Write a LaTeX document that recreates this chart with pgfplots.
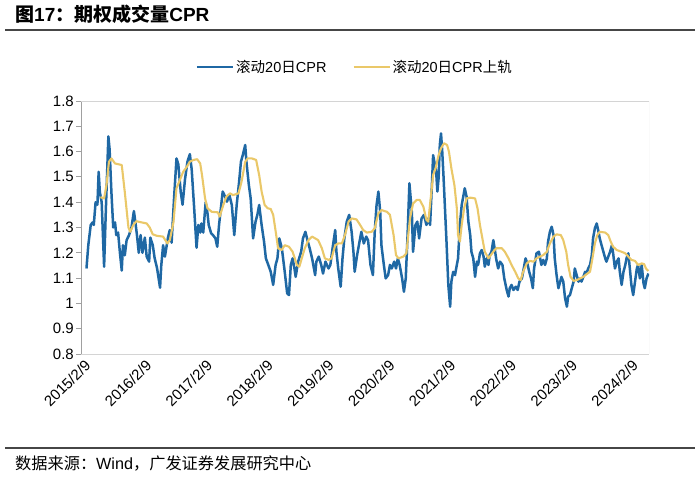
\documentclass[border=0pt]{standalone}
\usepackage{pgfplots}
\pgfplotsset{compat=1.18}
\usepackage{fontspec}
\setmainfont{Liberation Sans}
\newfontfamily\cjk{Noto Sans CJK SC}
\definecolor{cprblue}{RGB}{31,104,164}
\definecolor{cpryel}{RGB}{234,200,105}
\definecolor{rulegray}{RGB}{70,70,70}
\definecolor{axgray}{RGB}{160,160,160}
\definecolor{frgray}{RGB}{212,212,212}
\begin{document}
\begin{tikzpicture}
\path[use as bounding box] (0pt,0pt) rectangle (700pt,482pt);
% title
\node[anchor=west,inner sep=0pt] at (15pt,467.5pt) {\fontsize{19pt}{21pt}\selectfont\bfseries{\cjk 图}17{\cjk ：期权成交量}CPR};
\draw[rulegray,line width=2pt] (5pt,452pt) -- (695pt,452pt);
\draw[rulegray,line width=2pt] (5pt,34pt) -- (695pt,34pt);
\node[anchor=west,inner sep=0pt] at (15pt,18.5pt) {\fontsize{16.2pt}{19pt}\selectfont{\cjk 数据来源：}Wind{\cjk ，广发证券发展研究中心}};
\begin{axis}[
  at={(81pt,128pt)}, anchor=south west,
  scale only axis, width=568pt, height=253pt,
  xmin=-0.08, xmax=9.26, ymin=0.8, ymax=1.8,
  axis x line*=bottom, axis y line*=left,
  x axis line style={draw=frgray, line width=0.8pt},
  y axis line style={draw=axgray, line width=0.8pt},
  ytick={0.8,0.9,1,1.1,1.2,1.3,1.4,1.5,1.6,1.7,1.8},
  yticklabels={0.8,0.9,1,1.1,1.2,1.3,1.4,1.5,1.6,1.7,1.8},
  xtick={0,1,2,3,4,5,6,7,8,9},
  xticklabels={2015/2/9,2016/2/9,2017/2/9,2018/2/9,2019/2/9,2020/2/9,2021/2/9,2022/2/9,2023/2/9,2024/2/9},
  tick label style={font=\fontsize{15pt}{18pt}\selectfont, text=black},
  x tick label style={rotate=45, anchor=east, inner sep=1pt, yshift=-4pt},
  y tick label style={inner sep=2pt},
  tick align=outside, major tick length=5pt,
  xtick style={draw=none},
  ytick style={draw=axgray, line width=0.8pt},
  legend style={at={(0.482,1.134)}, anchor=center, draw=none, fill=none,
    legend columns=2, font=\fontsize{14.5pt}{17pt}\selectfont,
    /tikz/every even column/.append style={column sep=24pt}},
  legend cell align=left,
  legend image code/.code={\draw[#1] (0pt,0pt) -- (36pt,0pt);},
]
\draw[frgray, line width=0.8pt] (rel axis cs:0,1) -- (rel axis cs:1,1) -- (rel axis cs:1,0);
\addplot[cprblue, line width=2.5pt, line join=round] coordinates {
(0.01,1.138) (0.04,1.23) (0.08,1.31) (0.11,1.32) (0.13,1.31) (0.16,1.40) (0.19,1.39) (0.21,1.52) (0.23,1.44) (0.26,1.40)
(0.30,1.145) (0.33,1.38) (0.37,1.66) (0.39,1.61) (0.42,1.44) (0.45,1.30) (0.48,1.32) (0.50,1.27) (0.53,1.28) (0.56,1.20)
(0.59,1.13) (0.61,1.23) (0.64,1.19) (0.67,1.25) (0.71,1.27) (0.75,1.30) (0.79,1.365) (0.82,1.31) (0.84,1.27) (0.87,1.20)
(0.90,1.27) (0.93,1.20) (0.97,1.26) (1.00,1.185) (1.04,1.165) (1.06,1.26) (1.10,1.23) (1.13,1.18) (1.17,1.14) (1.22,1.062)
(1.24,1.15) (1.27,1.23) (1.30,1.185) (1.33,1.23) (1.35,1.26) (1.38,1.29) (1.41,1.24) (1.45,1.415) (1.49,1.573) (1.52,1.55)
(1.56,1.44) (1.59,1.39) (1.63,1.49) (1.67,1.56) (1.71,1.59) (1.74,1.53) (1.78,1.38) (1.82,1.22) (1.85,1.31) (1.88,1.28)
(1.90,1.316) (1.93,1.28) (1.97,1.40) (2.00,1.356) (2.02,1.31) (2.06,1.277) (2.09,1.27) (2.13,1.257) (2.16,1.224) (2.19,1.31)
(2.22,1.376) (2.25,1.442) (2.29,1.422) (2.32,1.402) (2.36,1.428) (2.40,1.389) (2.44,1.27) (2.48,1.389) (2.52,1.481) (2.55,1.56)
(2.58,1.586) (2.62,1.626) (2.64,1.56) (2.68,1.468) (2.71,1.415) (2.75,1.257) (2.79,1.323) (2.82,1.35) (2.85,1.389) (2.89,1.31)
(2.93,1.244) (2.96,1.178) (3.00,1.152) (3.04,1.125) (3.08,1.073) (3.12,1.152) (3.15,1.178) (3.18,1.257) (3.21,1.23) (3.23,1.204)
(3.27,1.125) (3.31,1.04) (3.34,1.033) (3.37,1.152) (3.40,1.178) (3.43,1.138) (3.45,1.105) (3.49,1.165) (3.54,1.204) (3.57,1.257)
(3.61,1.283) (3.65,1.244) (3.68,1.218) (3.72,1.178) (3.77,1.112) (3.79,1.165) (3.83,1.185) (3.87,1.152) (3.90,1.118) (3.94,1.165)
(3.99,1.138) (4.02,1.152) (4.06,1.224) (4.10,1.29) (4.12,1.204) (4.15,1.138) (4.19,1.066) (4.22,1.178) (4.25,1.257) (4.29,1.323)
(4.33,1.35) (4.37,1.283) (4.40,1.204) (4.42,1.125) (4.46,1.191) (4.50,1.244) (4.53,1.283) (4.57,1.237) (4.61,1.264) (4.64,1.25)
(4.68,1.152) (4.72,1.112) (4.75,1.283) (4.78,1.389) (4.81,1.442) (4.84,1.362) (4.86,1.23) (4.90,1.152) (4.93,1.099) (4.97,1.112)
(5.00,1.152) (5.03,1.138) (5.07,1.165) (5.10,1.138) (5.13,1.178) (5.16,1.152) (5.20,1.099) (5.23,1.046) (5.26,1.099) (5.29,1.27)
(5.32,1.475) (5.36,1.362) (5.38,1.204) (5.42,1.31) (5.45,1.323) (5.48,1.257) (5.52,1.336) (5.56,1.35) (5.60,1.31) (5.63,1.336)
(5.66,1.31) (5.69,1.468) (5.71,1.586) (5.73,1.56) (5.76,1.52) (5.78,1.442) (5.80,1.494) (5.82,1.626) (5.84,1.672) (5.86,1.60)
(5.88,1.507) (5.90,1.402) (5.93,1.244) (5.96,1.073) (5.99,0.987) (6.01,1.086) (6.04,1.125) (6.07,1.112) (6.10,1.152) (6.12,1.178)
(6.15,1.31) (6.18,1.389) (6.21,1.428) (6.23,1.455) (6.26,1.422) (6.29,1.323) (6.32,1.27) (6.34,1.204) (6.37,1.178) (6.40,1.105)
(6.43,1.165) (6.45,1.152) (6.48,1.198) (6.51,1.211) (6.54,1.185) (6.56,1.145) (6.59,1.178) (6.62,1.152) (6.64,1.191) (6.67,1.204)
(6.70,1.25) (6.73,1.204) (6.75,1.172) (6.78,1.138) (6.81,1.165) (6.85,1.152) (6.88,1.099) (6.92,1.053) (6.95,1.027) (6.97,1.06)
(7.00,1.073) (7.03,1.053) (7.07,1.066) (7.10,1.053) (7.13,1.086) (7.17,1.099) (7.20,1.138) (7.23,1.178) (7.26,1.158) (7.29,1.125)
(7.32,1.099) (7.35,1.06) (7.37,1.138) (7.41,1.198) (7.45,1.204) (7.49,1.152) (7.52,1.172) (7.55,1.152) (7.58,1.178) (7.60,1.244)
(7.63,1.283) (7.66,1.303) (7.69,1.27) (7.71,1.178) (7.74,1.112) (7.77,1.06) (7.80,1.086) (7.82,1.105) (7.85,1.086) (7.88,1.02)
(7.91,0.987) (7.93,1.027) (7.96,1.033) (7.99,1.06) (8.02,1.086) (8.04,1.138) (8.07,1.112) (8.10,1.086) (8.13,1.099) (8.15,1.086)
(8.18,1.105) (8.21,1.125) (8.23,1.118) (8.26,1.138) (8.29,1.152) (8.32,1.191) (8.34,1.257) (8.37,1.297) (8.40,1.316) (8.43,1.283)
(8.45,1.257) (8.48,1.23) (8.51,1.204) (8.54,1.178) (8.56,1.165) (8.59,1.185) (8.62,1.204) (8.65,1.23) (8.67,1.198) (8.70,1.138)
(8.73,1.165) (8.76,1.178) (8.78,1.125) (8.81,1.073) (8.84,1.125) (8.87,1.152) (8.89,1.178) (8.92,1.198) (8.95,1.125) (8.97,1.073)
(9.00,1.033) (9.03,1.086) (9.06,1.138) (9.08,1.152) (9.11,1.099) (9.14,1.152) (9.17,1.079) (9.19,1.06) (9.22,1.099) (9.25,1.118)
};
\addlegendentry{{\cjk 滚动}20{\cjk 日}CPR}
\addplot[cpryel, line width=2.1pt, line join=round] coordinates {
(0.24,1.42) (0.30,1.415) (0.34,1.47) (0.38,1.56) (0.42,1.573) (0.48,1.553) (0.59,1.547) (0.64,1.44) (0.70,1.30) (0.73,1.283)
(0.78,1.31) (0.83,1.325) (0.92,1.32) (1.00,1.316) (1.05,1.30) (1.10,1.273) (1.17,1.267) (1.27,1.264) (1.34,1.237) (1.38,1.25)
(1.44,1.32) (1.49,1.455) (1.55,1.49) (1.60,1.52) (1.66,1.54) (1.71,1.56) (1.77,1.567) (1.83,1.57) (1.88,1.553) (1.91,1.507)
(1.96,1.415) (2.00,1.376) (2.07,1.362) (2.17,1.36) (2.20,1.343) (2.26,1.389) (2.31,1.422) (2.37,1.435) (2.42,1.428) (2.51,1.435)
(2.56,1.481) (2.62,1.56) (2.66,1.573) (2.73,1.573) (2.80,1.567) (2.85,1.507) (2.89,1.442) (2.94,1.389) (2.99,1.376) (3.04,1.373)
(3.08,1.35) (3.13,1.27) (3.16,1.218) (3.22,1.211) (3.27,1.23) (3.34,1.224) (3.40,1.204) (3.47,1.152) (3.51,1.145) (3.55,1.178)
(3.60,1.218) (3.66,1.25) (3.72,1.264) (3.77,1.257) (3.82,1.25) (3.88,1.218) (3.93,1.178) (3.99,1.172) (4.04,1.178) (4.10,1.23)
(4.15,1.237) (4.21,1.237) (4.26,1.27) (4.32,1.323) (4.37,1.336) (4.45,1.332) (4.51,1.31) (4.56,1.29) (4.62,1.28) (4.70,1.283)
(4.75,1.297) (4.81,1.356) (4.86,1.369) (4.95,1.362) (5.00,1.35) (5.06,1.27) (5.10,1.191) (5.14,1.178) (5.22,1.185) (5.27,1.198)
(5.33,1.336) (5.38,1.395) (5.44,1.409) (5.49,1.409) (5.55,1.382) (5.60,1.33) (5.63,1.323) (5.67,1.415) (5.71,1.507) (5.75,1.534)
(5.80,1.586) (5.84,1.613) (5.89,1.633) (5.94,1.626) (5.97,1.60) (6.01,1.534) (6.06,1.468) (6.10,1.376) (6.12,1.27) (6.15,1.244)
(6.18,1.31) (6.22,1.376) (6.26,1.415) (6.32,1.418) (6.40,1.415) (6.44,1.376) (6.48,1.31) (6.52,1.257) (6.56,1.204) (6.62,1.178)
(6.66,1.191) (6.72,1.211) (6.75,1.218) (6.84,1.218) (6.89,1.204) (6.95,1.178) (7.00,1.152) (7.06,1.125) (7.11,1.099) (7.15,1.092)
(7.19,1.125) (7.25,1.158) (7.30,1.168) (7.36,1.165) (7.41,1.178) (7.47,1.185) (7.52,1.191) (7.58,1.204) (7.63,1.237) (7.69,1.264)
(7.74,1.273) (7.81,1.27) (7.85,1.25) (7.90,1.204) (7.93,1.152) (7.97,1.105) (8.02,1.089) (8.07,1.092) (8.13,1.099) (8.18,1.105)
(8.23,1.115) (8.29,1.125) (8.33,1.178) (8.37,1.237) (8.41,1.27) (8.45,1.283) (8.54,1.28) (8.59,1.27) (8.63,1.244) (8.67,1.224)
(8.73,1.211) (8.81,1.204) (8.87,1.198) (8.92,1.185) (8.97,1.172) (9.03,1.168) (9.08,1.152) (9.14,1.158) (9.18,1.155) (9.21,1.138)
(9.25,1.128)
};
\addlegendentry{{\cjk 滚动}20{\cjk 日}CPR{\cjk 上轨}}
\end{axis}
\end{tikzpicture}
\end{document}
